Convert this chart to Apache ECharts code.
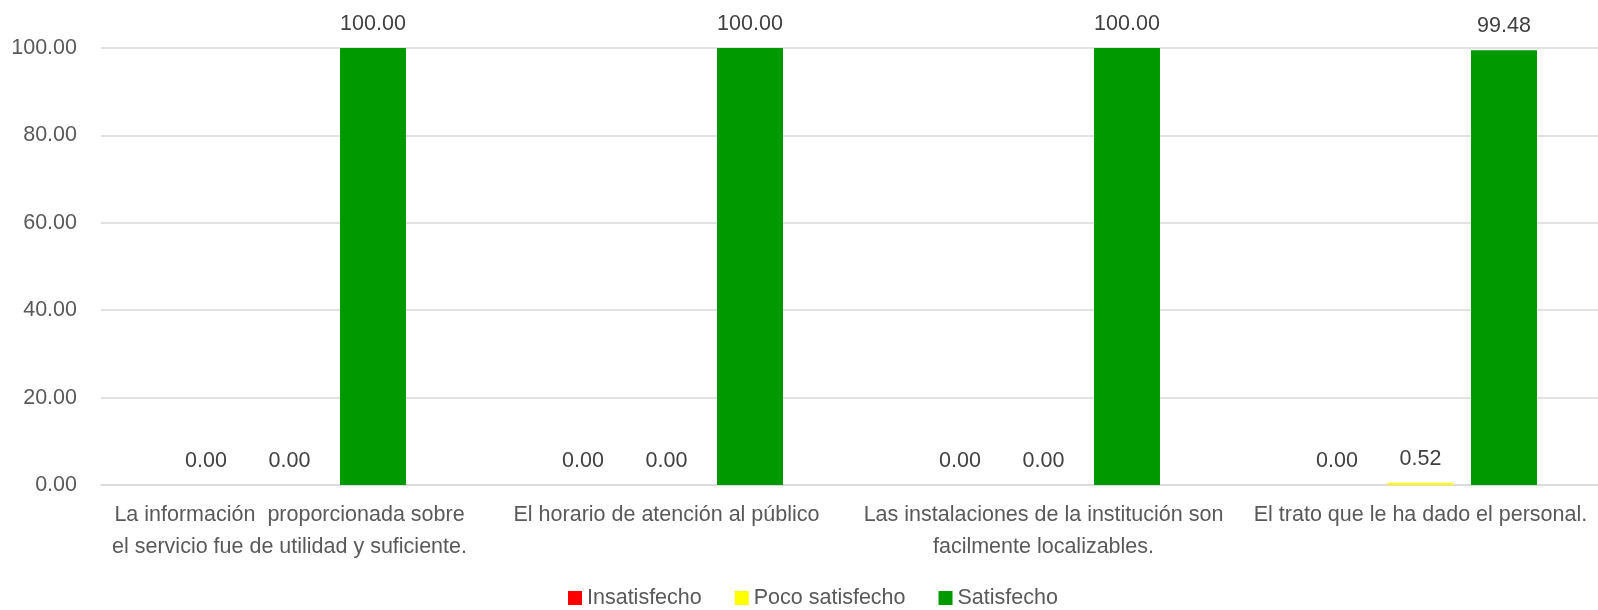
<!DOCTYPE html>
<html>
<head>
<meta charset="utf-8">
<script src="https://cdn.jsdelivr.net/npm/echarts@6/dist/echarts.min.js"></script>
<style>
html,body{margin:0;padding:0;background:#fff;overflow:hidden;width:1598px;height:610px;}
#chart{width:1609px;height:610px;}
</style>
</head>
<body>
<div id="chart"></div>
<script>
const categories = [
  "La información  proporcionada sobre\nel servicio fue de utilidad y suficiente.",
  "El horario de atención al público",
  "Las instalaciones de la institución son\nfacilmente localizables.",
  "El trato que le ha dado el personal."
];
const seriesNames = ["Insatisfecho", "Poco satisfecho", "Satisfecho"];
const insatisfecho = [0.00, 0.00, 0.00, 0.00];
const pocoSatisfecho = [0.00, 0.00, 0.00, 0.52];
const satisfecho = [100.00, 100.00, 100.00, 99.48];
const colors = ["#FF0000", "#FFFF00", "#009900"];
const yTicks = { min: 0, max: 100, interval: 20 };

const FONT = "Liberation Sans";
const chart = echarts.init(document.getElementById('chart'), null, { renderer: 'canvas' });

function mk(name, data, color) {
  return {
    name: name,
    type: 'bar',
    data: data,
    barWidth: 66,
    barGap: '26.5%',
    itemStyle: { color: color },
    label: {
      show: true,
      position: 'top',
      distance: 13,
      color: '#404040',
      fontFamily: FONT,
      fontSize: 21.5,
      formatter: p => p.value.toFixed(2)
    }
  };
}

chart.setOption({
  animation: false,
  textStyle: { fontFamily: FONT },
  color: colors,
  grid: { left: 101, top: 48, right: 0, bottom: 125, containLabel: false },
  legend: {
    data: seriesNames,
    top: 587,
    left: 568,
    padding: 0,
    itemWidth: 14,
    itemHeight: 14,
    itemGap: 33,
    icon: 'rect',
    textStyle: { color: '#595959', fontFamily: FONT, fontSize: 21.5 }
  },
  xAxis: {
    type: 'category',
    data: categories,
    axisTick: { show: false },
    axisLine: { lineStyle: { color: '#d9d9d9', width: 1.5 } },
    axisLabel: {
      interval: 0,
      margin: 14,
      color: '#595959',
      fontFamily: FONT,
      fontSize: 21.5,
      lineHeight: 32
    }
  },
  yAxis: {
    type: 'value',
    min: yTicks.min,
    max: yTicks.max,
    interval: yTicks.interval,
    axisLine: { show: false },
    axisTick: { show: false },
    splitLine: { lineStyle: { color: '#d9d9d9', width: 1.5 } },
    axisLabel: {
      margin: 24,
      color: '#595959',
      fontFamily: FONT,
      fontSize: 21.5,
      formatter: v => v.toFixed(2)
    }
  },
  series: [
    mk(seriesNames[0], insatisfecho, colors[0]),
    mk(seriesNames[1], pocoSatisfecho, colors[1]),
    mk(seriesNames[2], satisfecho, colors[2])
  ]
});
</script>
</body>
</html>
